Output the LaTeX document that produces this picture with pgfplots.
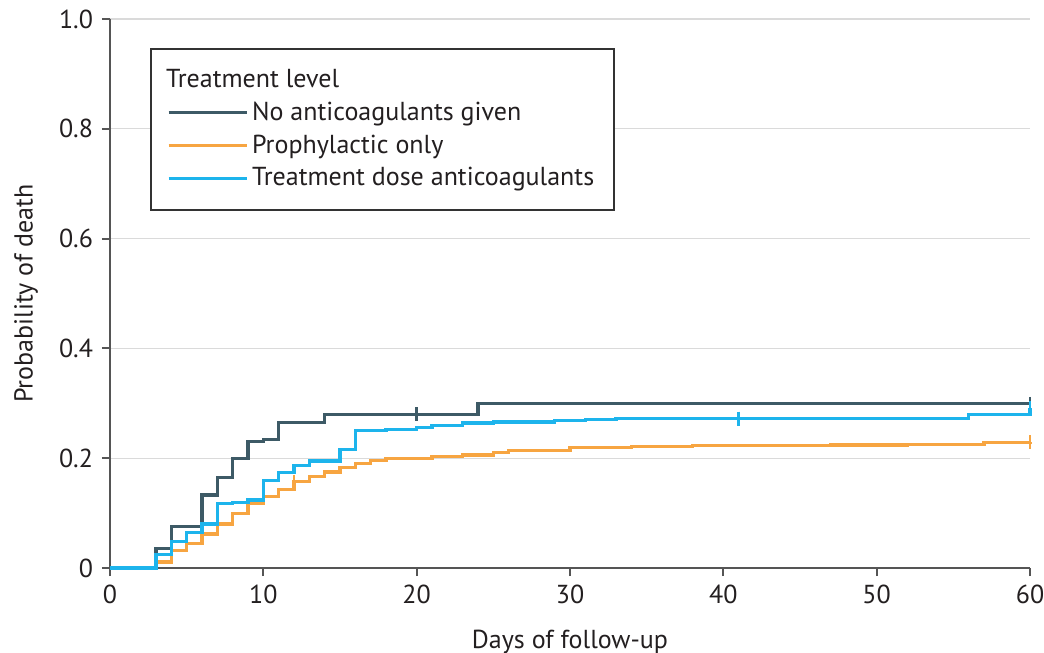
\documentclass[border=0pt]{standalone}
\usepackage{fontspec}
\setmainfont{PT Sans}
\usepackage{pgfplots}
\pgfplotsset{compat=1.18}
\definecolor{cDark}{HTML}{3D5A66}
\definecolor{cOrange}{HTML}{F7A541}
\definecolor{cBlue}{HTML}{1DB4EC}
\definecolor{axisgray}{HTML}{555555}
\definecolor{gridgray}{HTML}{DADADA}
\definecolor{txt}{HTML}{231F20}
\begin{document}
\fontsize{13}{15}\selectfont
\begin{tikzpicture}
\begin{axis}[
  at={(0,0)}, anchor=south west,
  width=460pt, height=274.5pt, scale only axis,
  xmin=0, xmax=60, ymin=0, ymax=1,
  axis x line=bottom, axis y line=left,
  axis line style={-, draw=axisgray, line width=1.2pt},
  xtick={0,10,...,60}, ytick={0,0.2,0.4,0.6,0.8,1.0},
  yticklabels={0,0.2,0.4,0.6,0.8,1.0},
  tick align=outside, major tick length=4pt,
  tick style={axisgray, line width=1pt},
  ymajorgrids, grid style={gridgray, line width=0.6pt},
  clip=false,
  /pgf/number format/assume math mode=true,
  ticklabel style={text=txt, font=\fontsize{13}{15}\selectfont},
  xlabel={Days of follow-up}, ylabel={Probability of death},
  label style={font=\fontsize{13}{15}\selectfont},
  xlabel style={at={(axis description cs:0.5,0)}, anchor=base, yshift=-40pt, text=txt},
  ylabel style={at={(axis description cs:0,0.5)}, anchor=center, yshift=42pt, text=txt},
  legend style={at={(0.0435,0.947)}, anchor=north west, draw=black!80, line width=0.9pt,
    text=txt, inner xsep=8pt, inner ysep=8pt, row sep=1.3pt, font=\fontsize{13}{15}\selectfont},
  legend cell align=left,
  legend image code/.code={\draw[#1, line width=1.6pt] (0pt,0pt) -- (39pt,0pt);},
]
\addlegendimage{empty legend}
\addlegendentry{\hspace{-43pt}Treatment level}

\addplot[const plot, cDark, line width=1.6pt] coordinates {
(0,0) (3,0.036) (4,0.075) (6,0.133) (7,0.165) (8,0.2) (9,0.23) (10,0.234)
(11,0.265) (14,0.28) (24,0.299) (60,0.299)};
\addlegendentry{No anticoagulants given}

\addplot[const plot, cOrange, line width=1.6pt] coordinates {
(0,0) (3,0.011) (4,0.032) (5,0.045) (6,0.062) (7,0.08) (8,0.1) (9,0.118)
(10,0.13) (11,0.143) (12,0.157) (13,0.166) (14,0.175) (15,0.183) (16,0.19)
(17,0.196) (18,0.2) (21,0.203) (23,0.206) (25,0.210) (26,0.214) (30,0.219)
(34,0.221) (38,0.223) (47,0.224) (52,0.225) (57,0.228) (60,0.229)};
\addlegendentry{Prophylactic only}

\addplot[const plot, cBlue, line width=1.6pt] coordinates {
(0,0) (3,0.024) (4,0.049) (5,0.064) (6,0.08) (7,0.117) (8,0.119) (9,0.124)
(10,0.16) (11,0.174) (12,0.186) (13,0.195) (15,0.216) (16,0.251) (18,0.253)
(20,0.256) (21,0.26) (23,0.264) (25,0.266) (29,0.268) (31,0.27) (33,0.272)
(56,0.279) (60,0.279) (60,0.291)};
\addlegendentry{Treatment dose anticoagulants}

% censoring marks
\addplot[only marks, mark=|, mark size=3.5pt, cDark, mark options={line width=1.2pt}, forget plot]
  coordinates {(20,0.28) (60,0.299)};
\addplot[only marks, mark=|, mark size=3.5pt, cOrange, mark options={line width=1.2pt}, forget plot]
  coordinates {(12,0.157) (60,0.229)};
\addplot[only marks, mark=|, mark size=3.5pt, cBlue, mark options={line width=1.2pt}, forget plot]
  coordinates {(41,0.272) (60,0.291)};
\end{axis}
\pgfresetboundingbox
\path[use as bounding box] (-55pt,-42.5pt) rectangle (467pt,284pt);
\end{tikzpicture}
\end{document}
